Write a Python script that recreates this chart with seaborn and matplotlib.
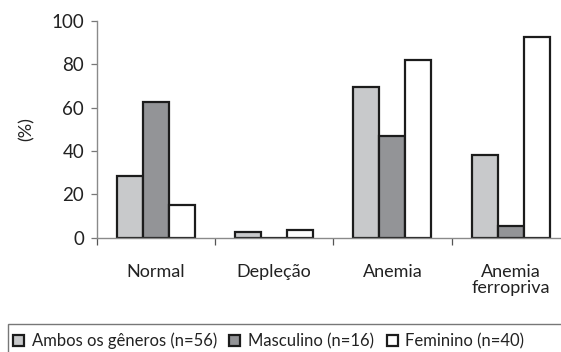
import matplotlib
matplotlib.use("Agg")
import matplotlib.pyplot as plt
import seaborn as sns
import pandas as pd
from matplotlib.patches import Patch, Rectangle

categories = ["Normal", "Depleção", "Anemia", "Anemia\nferropriva"]
groups = ["Ambos os gêneros (n=56)", "Masculino (n=16)", "Feminino (n=40)"]
ambos = [28.6, 2.5, 69.6, 38.3]
masculino = [62.5, 0.0, 46.9, 5.2]
feminino = [15.0, 3.4, 82.0, 92.5]
yticks = [0, 20, 40, 60, 80, 100]
colors = ["#c8c9cb", "#939497", "#ffffff"]

rows = []
for g, vals in zip(groups, [ambos, masculino, feminino]):
    for c, v in zip(categories, vals):
        rows.append({"cat": c, "grupo": g, "val": v})
df = pd.DataFrame(rows)

sns.set_theme(style="white")
plt.rcParams["font.family"] = ["Lato", "DejaVu Sans"]

W, H = 561, 352
fig = plt.figure(figsize=(W / 100, H / 100), dpi=100)
ax = fig.add_axes([96.7 / W, (H - 237.7) / H, 4 * 118.3 / W, (237.7 - 21) / H])

sns.barplot(data=df, x="cat", y="val", hue="grupo", order=categories, hue_order=groups,
            palette=colors, edgecolor="#1c1c1c", linewidth=1.6, width=0.66,
            saturation=1, legend=False, ax=ax)

ax.set_xlim(-0.5, 3.5)
ax.set_ylim(0, 100)
ax.set_yticks(yticks)
ax.set_yticklabels([str(t) for t in yticks], fontsize=13.5, color="#222222")
ax.set_xticks(range(len(categories)))
ax.set_xticklabels(categories, fontsize=13, color="#222222", linespacing=1.0)
ax.set_xticks([-0.5, 0.5, 1.5, 2.5], minor=True)
ax.tick_params(axis="x", which="major", length=0, pad=19)
ax.tick_params(axis="x", which="minor", length=5, width=0.9, color="#555555", direction="out", bottom=True)
ax.tick_params(axis="y", length=4, width=0.9, color="#777777", direction="out", left=True, pad=5)
ax.set_xlabel("")
ax.set_ylabel("(%)", fontsize=13, color="#222222", labelpad=12)
for s in ["top", "right"]:
    ax.spines[s].set_visible(False)
for s in ["left", "bottom"]:
    ax.spines[s].set_color("#8a8a8a")
    ax.spines[s].set_linewidth(1.0)

# legend frame (extends past the right and bottom edges, as in the reference)
fig.patches.append(Rectangle((8 / W, -0.05), 1.1, (H - 324) / H + 0.05, transform=fig.transFigure,
                             facecolor="none", edgecolor="#777777", linewidth=1.0))
handles = [Patch(facecolor=c, edgecolor="#1c1c1c", linewidth=1.6, label=g) for c, g in zip(colors, groups)]
leg = fig.legend(handles=handles, loc="center left", bbox_to_anchor=(13 / W, 1 - 341 / H),
                 ncol=3, fontsize=12, frameon=False,
                 handlelength=0.66, handleheight=0.66, handletextpad=0.46, columnspacing=0.75,
                 borderaxespad=0, borderpad=0)
for t in leg.get_texts():
    t.set_color("#222222")

fig.savefig("out.png", dpi=100, facecolor="white")
